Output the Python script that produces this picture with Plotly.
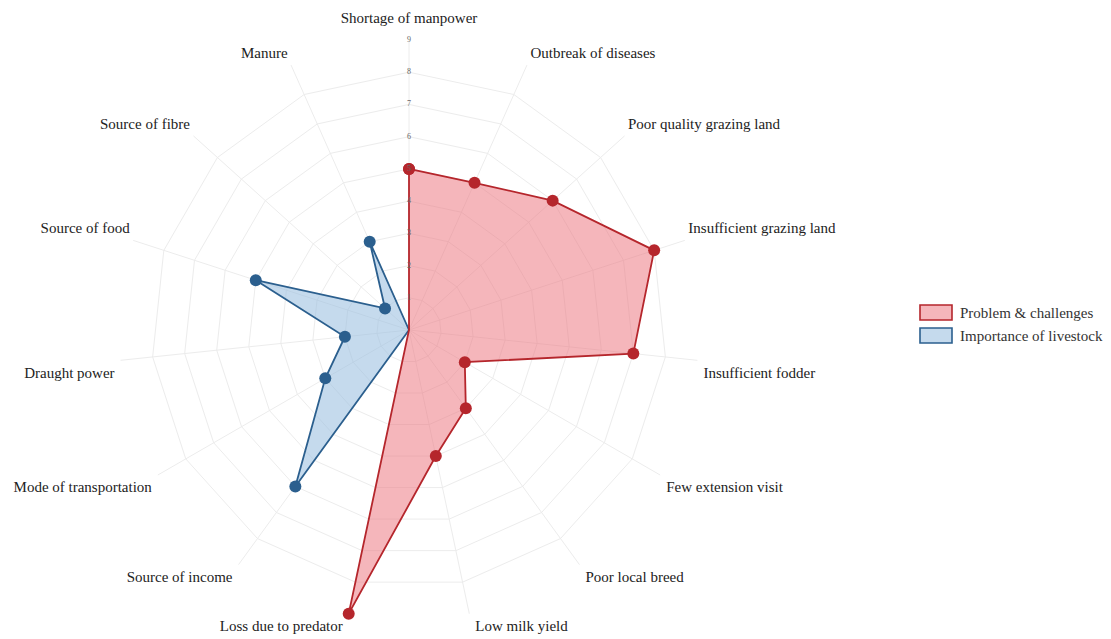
import math
import plotly.graph_objects as go

categories = [
    "Shortage of manpower", "Outbreak of diseases", "Poor quality grazing land",
    "Insufficient grazing land", "Insufficient fodder", "Few extension visit",
    "Poor local breed", "Low milk yield", "Loss due to predator",
    "Source of income", "Mode of transportation", "Draught power",
    "Source of food", "Source of fibre", "Manure",
]
problems = [5, 5, 6, 8, 7, 2, 3, 4, 9, 0, 0, 0, 0, 0, 0]
importance = [0, 0, 0, 0, 0, 0, 0, 0, 0, 6, 3, 2, 5, 1, 3]
tick_vals = [1, 2, 3, 4, 5, 6, 7, 8, 9]
tick_text = [str(v) for v in tick_vals]
legend_names = ["Problem & challenges", "Importance of livestock"]

FONT = "Liberation Serif"
RED = "#b5262c"
BLUE = "#2b5f8e"
RED_FILL = "rgba(236,122,132,0.55)"
BLUE_FILL = "rgba(155,192,224,0.58)"

W, H = 1111, 639
MT, MB = 32, 27
PH = H - MT - MB
R_MAX = tick_vals[-1]


def px_x(x):
    return x / W


def px_y(y):
    return 1 - (y - MT) / PH


# label placement around the outer polygon (derived from each category's angle)
n = len(categories)
label_pos = []
label_size = []
for i in range(n):
    a = math.radians(90 - 360.0 / n * i)
    c, s = math.cos(a), math.sin(a)
    v = "top" if s > 0 else "bottom"
    h = "right" if c > 0.05 else ("left" if c < -0.05 else "center")
    label_pos.append(f"{v} {h}")
    if h == "center":
        off = 13
    elif v == "top":
        off = 3.5
    else:
        off = 6
    label_size.append(1.6 * (off - 1))

fig = go.Figure()
fig.add_trace(go.Scatterpolar(
    r=importance + importance[:1], theta=categories + categories[:1],
    mode="lines+markers", fill="toself", name=legend_names[1],
    line=dict(color=BLUE, width=1.8), marker=dict(color=BLUE, size=12),
    fillcolor=BLUE_FILL, showlegend=False,
))
fig.add_trace(go.Scatterpolar(
    r=problems + problems[:1], theta=categories + categories[:1],
    mode="lines+markers", fill="toself", name=legend_names[0],
    line=dict(color=RED, width=1.8), marker=dict(color=RED, size=12),
    fillcolor=RED_FILL, showlegend=False,
))
fig.add_trace(go.Scatterpolar(
    r=tick_vals, theta=[categories[0]] * len(tick_vals), text=tick_text,
    mode="text", textfont=dict(family=FONT, size=8, color="#666"),
    showlegend=False, hoverinfo="skip",
))
fig.add_trace(go.Scatterpolar(
    r=[R_MAX] * n, theta=categories, text=categories,
    mode="markers+text", textposition=label_pos,
    marker=dict(size=label_size, opacity=0, color="white"),
    textfont=dict(family=FONT, size=15, color="#222"),
    cliponaxis=False, showlegend=False, hoverinfo="skip",
))

# manual legend (boxes with border, as in the reference)
shapes = []
annotations = []
for i, (name, lc, fc) in enumerate(zip(legend_names, [RED, BLUE], [RED_FILL, BLUE_FILL])):
    top = 297 + i * 23
    bot = top + 15
    shapes.append(dict(type="rect", xref="paper", yref="paper",
                       x0=px_x(912), x1=px_x(944), y0=px_y(bot), y1=px_y(top),
                       line=dict(color=lc, width=1.6), fillcolor=fc))
    annotations.append(dict(xref="paper", yref="paper", x=px_x(950),
                            y=px_y((top + bot) / 2), xanchor="left", yanchor="middle",
                            text=name, showarrow=False,
                            font=dict(family=FONT, size=15, color="#333")))

fig.update_layout(
    width=W, height=H,
    margin=dict(l=0, r=0, t=MT, b=MB),
    paper_bgcolor="white",
    font=dict(family=FONT, size=15, color="#222"),
    shapes=shapes, annotations=annotations,
    polar=dict(
        domain=dict(x=[px_x(111), px_x(691)], y=[0, 1]),
        bgcolor="white",
        gridshape="linear",
        radialaxis=dict(range=[0, R_MAX], tickvals=tick_vals, showticklabels=False,
                        ticks="", showline=False, gridcolor="#ececec", gridwidth=1,
                        angle=90),
        angularaxis=dict(direction="clockwise", rotation=90, showline=False,
                         gridcolor="#ececec", ticks="", showticklabels=False),
    ),
)

fig.write_html("out.html")
